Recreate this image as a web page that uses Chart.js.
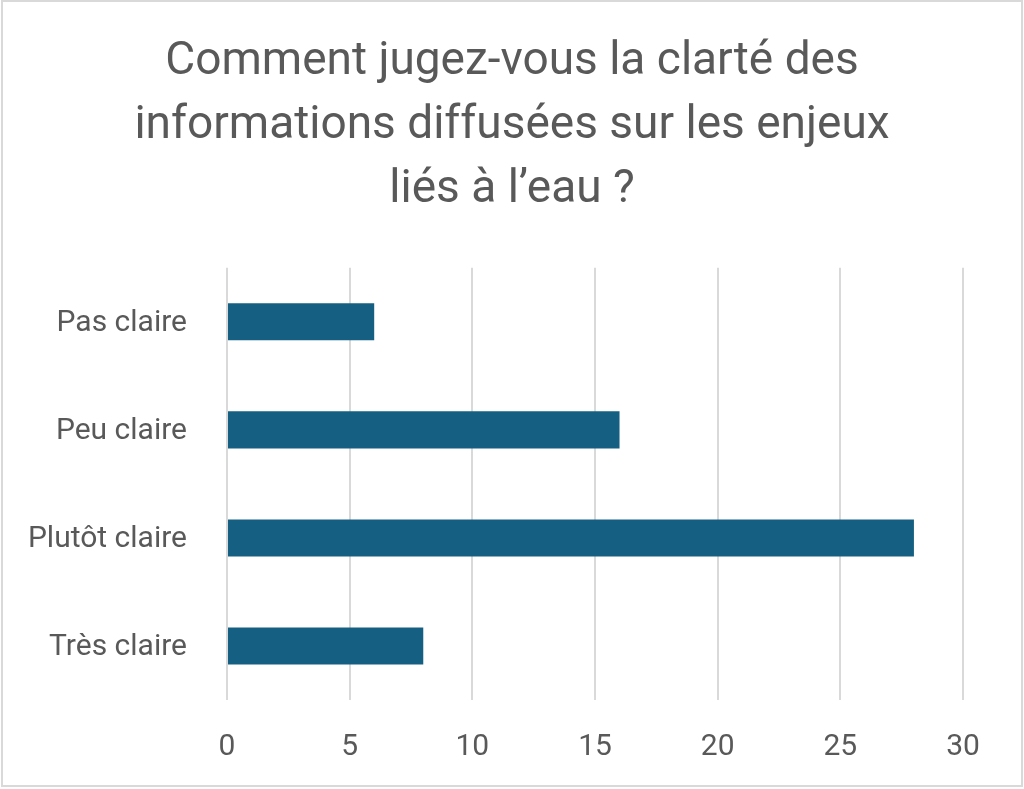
<!DOCTYPE html>
<html>
<head>
<meta charset="utf-8">
<script src="https://cdn.jsdelivr.net/npm/chart.js@4"></script>
<style>
  html, body { margin: 0; padding: 0; background: #fff; }
  canvas { display: block; }
</style>
</head>
<body>
<canvas id="clarteChart" width="1024" height="789"></canvas>
<script>
const categories = ['Pas claire', 'Peu claire', 'Plutôt claire', 'Très claire'];
const responses = [6, 16, 28, 8];
const titleLines = ['Comment jugez-vous la clarté des', 'informations diffusées sur les enjeux', 'liés à l’eau ?'];

const textColor = '#595959';
const fontFamily = 'Roboto, "Liberation Sans", sans-serif';

// cadre gris autour du graphique
const framePlugin = {
  id: 'frame',
  beforeDraw: (chart) => {
    const ctx = chart.ctx;
    ctx.save();
    ctx.fillStyle = '#ffffff';
    ctx.fillRect(0, 0, chart.width, chart.height);
    ctx.strokeStyle = '#d9d9d9';
    ctx.lineWidth = 2;
    ctx.strokeRect(2, 1, chart.width - 4, chart.height - 4);
    ctx.restore();
  }
};

const ctx = document.getElementById('clarteChart').getContext('2d');
new Chart(ctx, {
  type: 'bar',
  data: {
    labels: categories,
    datasets: [{
      data: responses,
      backgroundColor: '#156082',
      borderWidth: 0,
      categoryPercentage: 1,
      barPercentage: 0.343
    }]
  },
  options: {
    indexAxis: 'y',
    responsive: false,
    animation: false,
    layout: { padding: 0 },
    scales: {
      x: {
        min: 0,
        max: 30,
        ticks: { stepSize: 5, color: textColor, padding: 29, font: { family: fontFamily, size: 30 } },
        grid: { color: '#d9d9d9', lineWidth: 2, drawTicks: false },
        border: { display: false },
        afterFit: (scale) => { scale.height = 89; }
      },
      y: {
        ticks: { color: textColor, padding: 40, labelOffset: 2, font: { family: fontFamily, size: 30 } },
        grid: { display: false, drawTicks: false },
        border: { display: false },
        afterFit: (scale) => { scale.width = 227; }
      },
      // axe vide à droite : marge qui garde le titre centré sur la page
      yRight: {
        type: 'category',
        position: 'right',
        ticks: { display: false },
        grid: { display: false, drawTicks: false },
        border: { display: false },
        afterFit: (scale) => { scale.width = 61; }
      }
    },
    plugins: {
      legend: { display: false },
      tooltip: { enabled: false },
      title: {
        display: true,
        text: titleLines,
        color: textColor,
        font: { family: fontFamily, size: 46, weight: 'normal', lineHeight: 1.39 },
        padding: { top: 31, bottom: 45 }
      }
    }
  },
  plugins: [framePlugin]
});
</script>
</body>
</html>
